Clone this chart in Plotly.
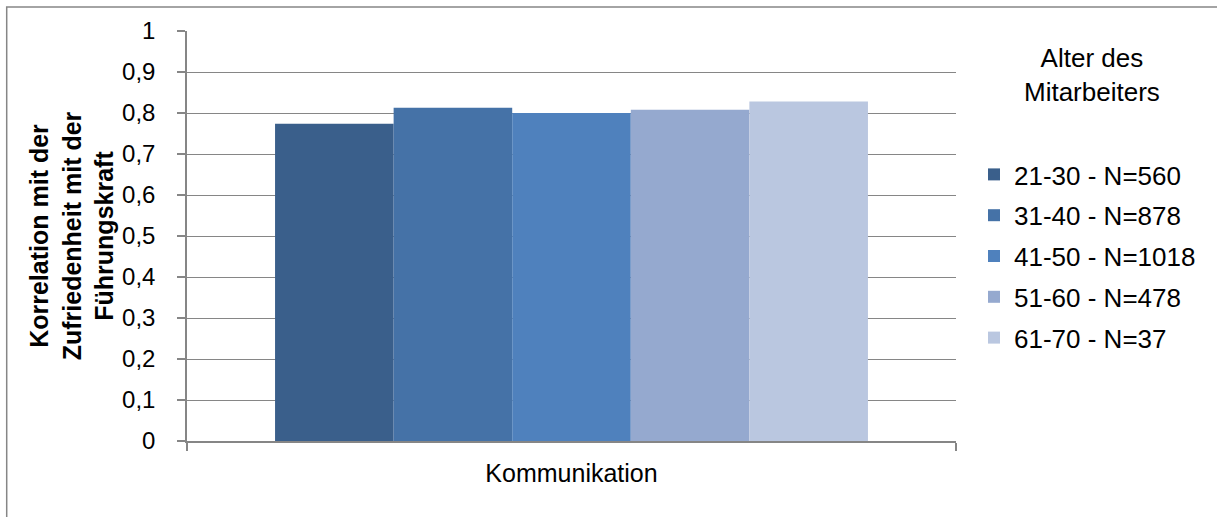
import plotly.graph_objects as go

categories = ["Kommunikation"]
series_names = ["21-30 - N=560", "31-40 - N=878", "41-50 - N=1018", "51-60 - N=478", "61-70 - N=37"]
series_values = [0.774, 0.813, 0.800, 0.808, 0.828]
series_colors = ["#3A5F8B", "#4572A7", "#4F81BD", "#95A9CF", "#BAC7E0"]
y_ticks = [0, 0.1, 0.2, 0.3, 0.4, 0.5, 0.6, 0.7, 0.8, 0.9, 1]
legend_title = "Alter des<br>Mitarbeiters"
y_title = "<b>Korrelation mit der<br>Zufriedenheit mit der<br>Führungskraft</b>"

FONT = "Liberation Sans, Arial, sans-serif"
GRAY = "#868686"

fig = go.Figure()
for name, val, col in zip(series_names, series_values, series_colors):
    fig.add_trace(go.Bar(
        x=categories, y=[val], name=name, marker=dict(color=col, line=dict(width=0)),
        legendgroup=name,
    ))

W, H = 1217, 517
L, R, T, B = 187, 261, 31, 76
pw, ph = W - L - R, H - T - B

def px_x(x):
    return (x - L) / pw

def px_y(y):
    return (H - B - y) / ph

fig.update_layout(
    width=W, height=H,
    margin=dict(l=L, r=R, t=T, b=B, autoexpand=False),
    paper_bgcolor="white", plot_bgcolor="white",
    barmode="group", bargap=0.229, bargroupgap=0,
    separators=",.",
    font=dict(family=FONT, color="black", size=22),
    showlegend=True,
    legend=dict(
        x=px_x(974), y=px_y(151), xanchor="left", yanchor="top",
        font=dict(size=26), tracegroupgap=4, itemwidth=30,
        bgcolor="rgba(0,0,0,0)",
    ),
    xaxis=dict(
        showline=True, linecolor=GRAY, linewidth=1.5,
        ticks="outside", tickson="boundaries", ticklen=8, tickcolor=GRAY, tickwidth=1.5,
        tickfont=dict(size=25), showgrid=False, ticklabelstandoff=9,
    ),
    yaxis=dict(
        range=[0, 1], tickvals=y_ticks, tickformat=".1~f",
        showline=True, linecolor=GRAY, linewidth=1.5,
        ticks="outside", ticklen=8, tickcolor=GRAY, tickwidth=1.5,
        showgrid=True, gridcolor=GRAY, gridwidth=1.3, zeroline=False,
        tickfont=dict(size=24), ticklabelstandoff=17,
        title=dict(text=y_title, font=dict(size=25), standoff=1),
    ),
    annotations=[dict(
        text=legend_title, xref="paper", yref="paper",
        x=px_x(1092), y=px_y(75), xanchor="center", yanchor="middle",
        align="center", showarrow=False, font=dict(size=26),
    )],
    shapes=[dict(type="rect", xref="paper", yref="paper",
                 x0=px_x(6.7), x1=px_x(1240), y0=px_y(530), y1=px_y(7),
                 line=dict(color=GRAY, width=1.5), fillcolor="rgba(0,0,0,0)", layer="below")],
)

fig.write_html("out.html")
